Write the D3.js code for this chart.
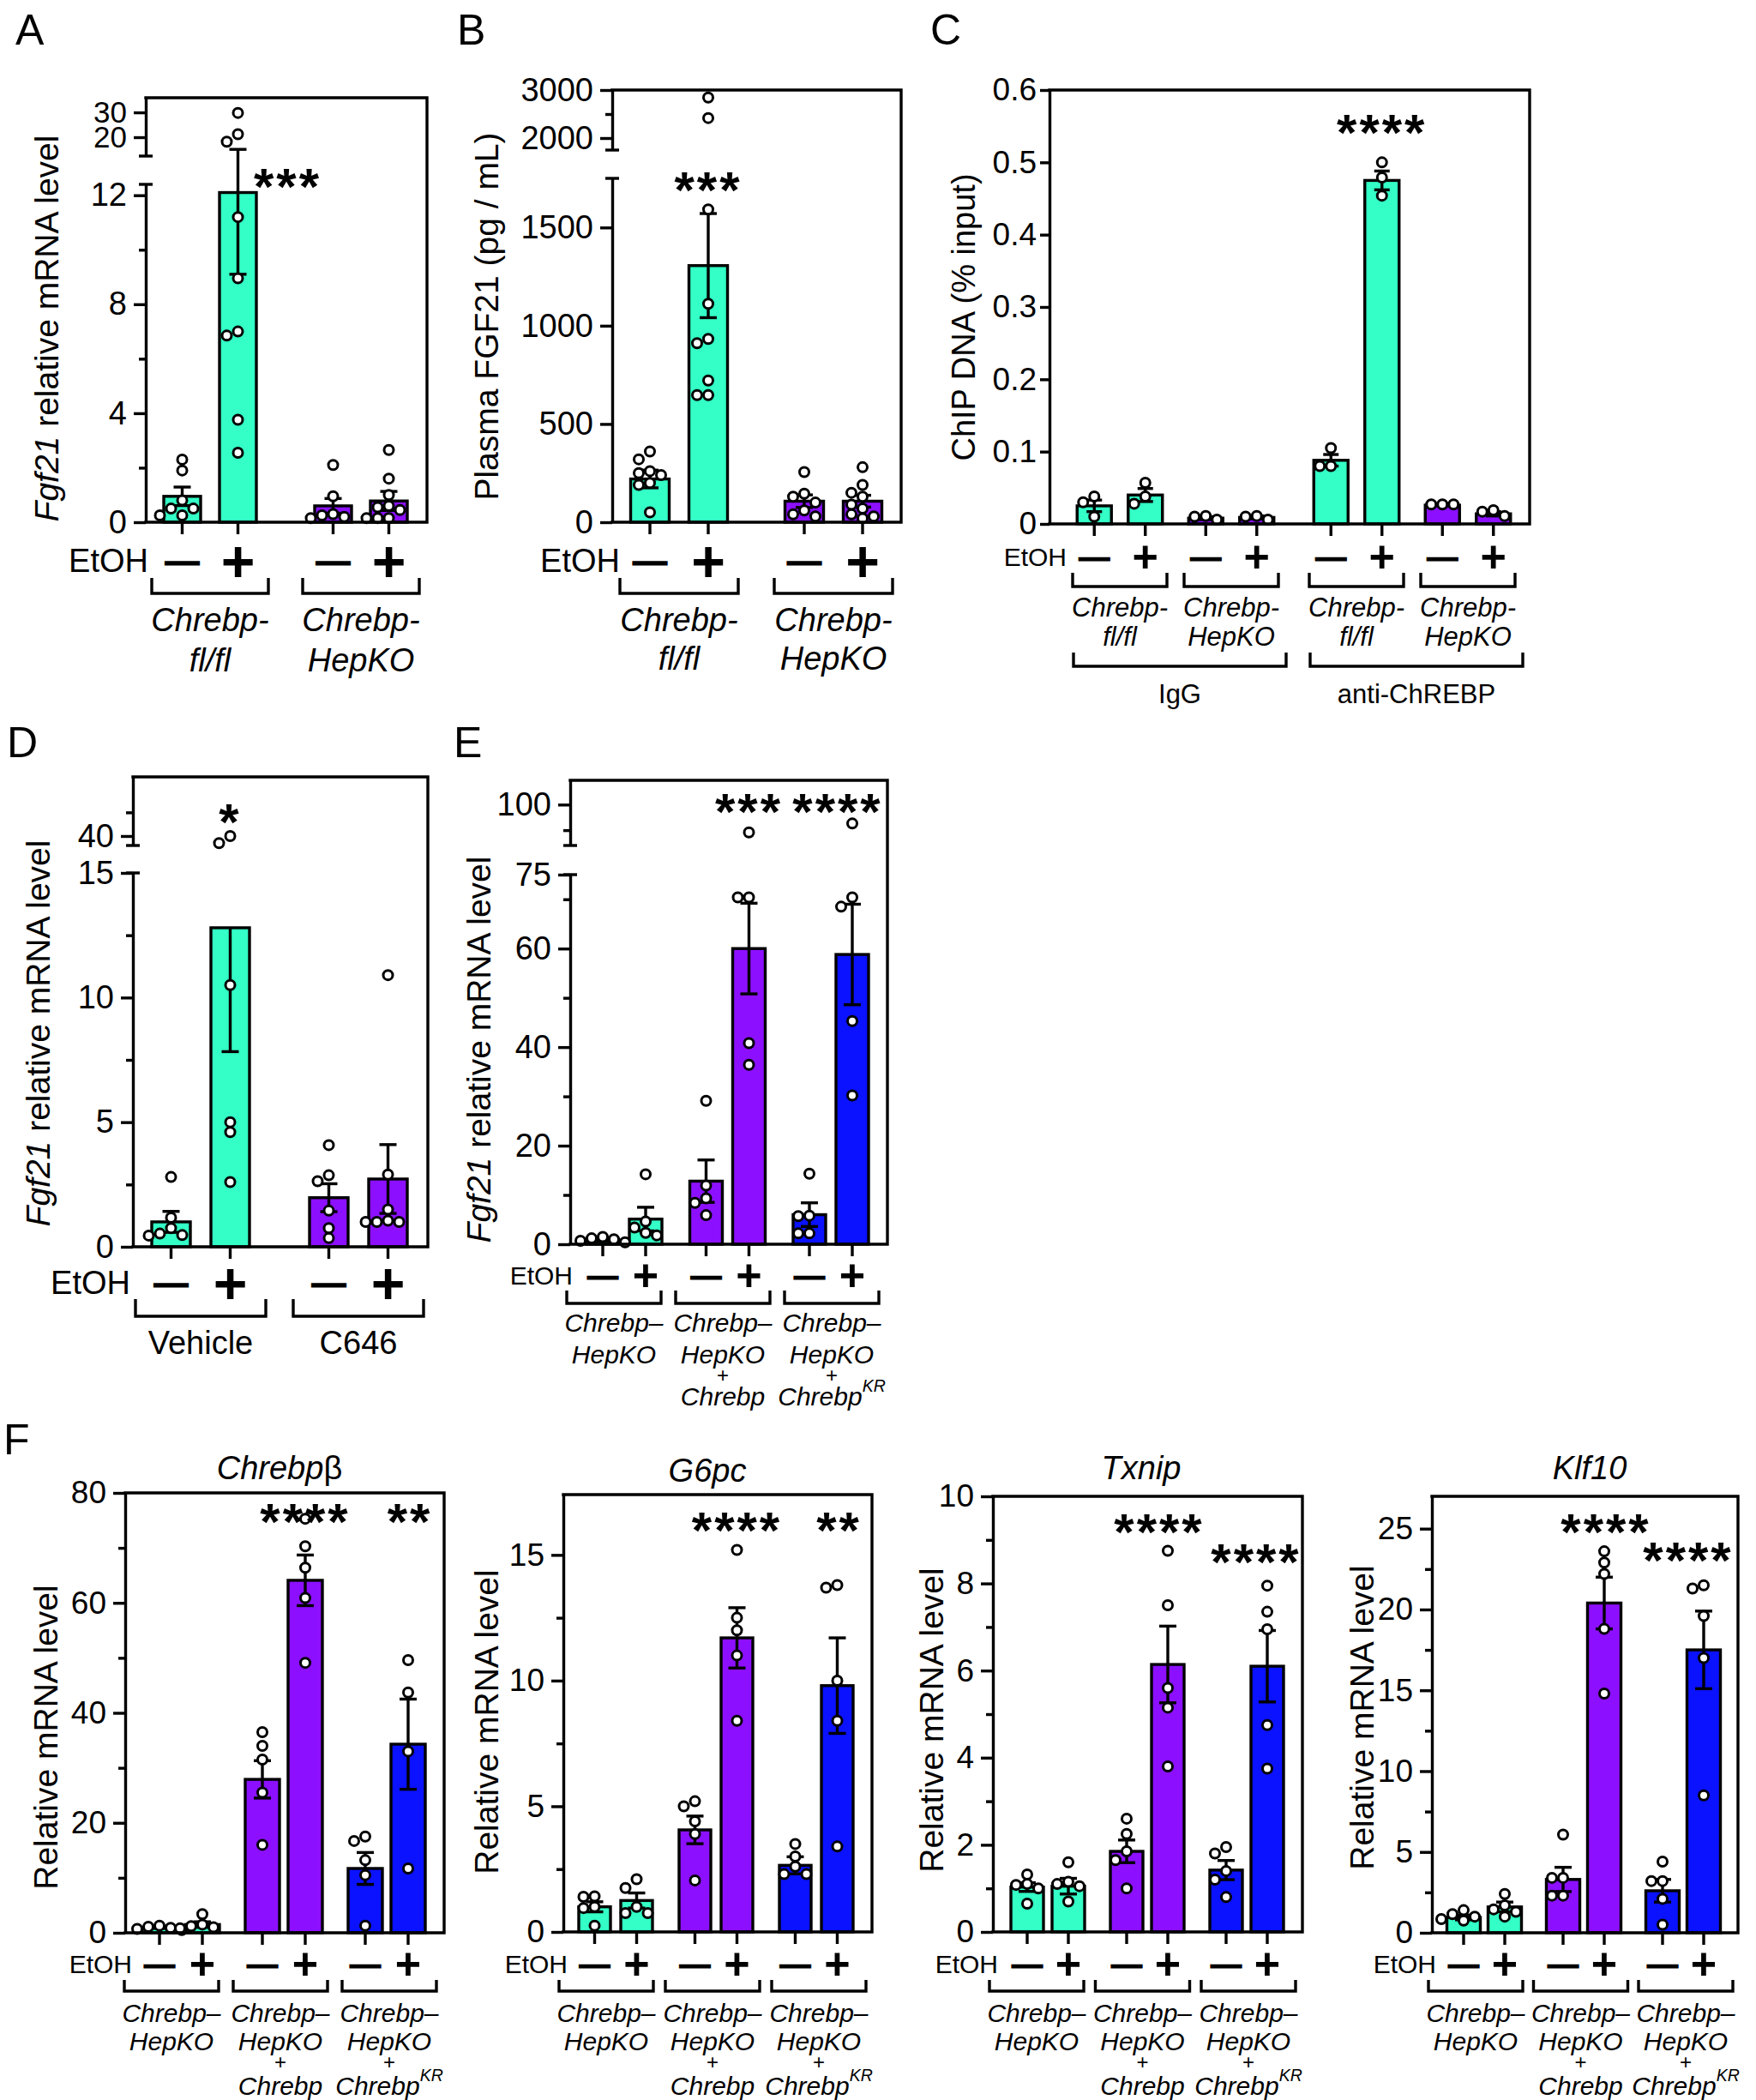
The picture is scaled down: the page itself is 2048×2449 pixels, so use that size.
<!DOCTYPE html>
<html>
<head>
<meta charset="utf-8">
<script src="https://cdn.jsdelivr.net/npm/d3@7/dist/d3.min.js"></script>
<style>
body { margin: 0; background: #fff; }
svg { display: block; }
</style>
</head>
<body>
<script>
///fonts and colours
const FONT = "'Liberation Sans', Arial, Helvetica, sans-serif";
const GREEN = "#33ffc6", PURPLE = "#8c10ff", BLUE = "#0a12ff";
const R = 5.5;
const LW = 3.4;

///shared x categories
const ethanol = ["\u2014", "+"];

///A: Fgf21 mRNA
const aGroups = [["Chrebp-", "fl/fl"], ["Chrebp-", "HepKO"]];
const aMean = [0.95, 12.1, 0.6, 0.78];
const aSem = [0.34, 3.0, 0.27, 0.35];
const aPoints = [
  [2.3, 1.9, 0.8, 0.5, 0.5, 0.25, 0.25],
  [29.8, 21.2, 18.2, 11.2, 8.95, 6.85, 7.0, 3.76, 2.55],
  [2.1, 0.95, 0.3, 0.25, 0.2, 0.15],
  [2.65, 1.6, 1.0, 0.6, 0.55, 0.45, 0.15, 0.15, 0.15]
];
const aTicks = [0, 4, 8, 12], aTicksTop = [20, 30], aMinor = [2, 6, 10];

///B: plasma FGF21
const bGroups = [["Chrebp-", "fl/fl"], ["Chrebp-", "HepKO"]];
const bMean = [220, 1306, 107, 107];
const bSem = [45, 265, 32, 30];
const bPoints = [
  [360, 320, 260, 250, 240, 200, 190, 50],
  [2843, 2417, 1592, 1112, 933, 911, 721, 647, 647],
  [255, 145, 130, 100, 60, 40, 30],
  [280, 190, 150, 130, 90, 70, 40, 30, 20]
];
const bTicks = [0, 500, 1000, 1500], bTicksTop = [2000, 3000], bMinorTop = [2500];

///C: ChIP
const cSuper = ["IgG", "anti-ChREBP"];
const cGroups = [["Chrebp-", "fl/fl"], ["Chrebp-", "HepKO"], ["Chrebp-", "fl/fl"], ["Chrebp-", "HepKO"]];
const cMean = [0.025, 0.040, 0.008, 0.009, 0.088, 0.475, 0.026, 0.014];
const cSem = [0.008, 0.009, 0.002, 0.002, 0.008, 0.013, 0.001, 0.003];
const cPoints = [
  [0.038, 0.03, 0.01], [0.057, 0.038, 0.028], [0.011, 0.01, 0.006], [0.006, 0.01, 0.011],
  [0.105, 0.08, 0.08], [0.5, 0.479, 0.454], [0.027, 0.027, 0.027], [0.011, 0.017, 0.019]
];
const cTicks = [0, 0.1, 0.2, 0.3, 0.4, 0.5, 0.6];

///D: C646
const dGroups = [["Vehicle"], ["C646"]];
const dMean = [1.0, 12.8, 1.97, 2.72];
const dSem = [0.42, 4.97, 0.56, 1.38];
const dPoints = [
  [2.8, 1.17, 0.75, 0.53, 0.47, 0.45],
  [40, 38.5, 10.5, 5.0, 4.6, 2.6],
  [4.08, 2.87, 2.63, 1.45, 0.75, 0.35],
  [10.9, 2.9, 1.5, 1.05, 1.0, 1.0, 1.0]
];
const dTicks = [0, 5, 10, 15], dMinor = [2.5, 7.5, 12.5], dTicksTop = [40], dMinorTop = [45];

///E: rescue Fgf21
const rescueGroups = [["Chrebp\u2013", "HepKO"], ["Chrebp\u2013", "HepKO", "+", "Chrebp"], ["Chrebp\u2013", "HepKO", "+", "Chrebp^KR"]];
const eMean = [0.9, 5.1, 12.8, 60.0, 6.0, 58.8];
const eSem = [0.3, 2.4, 4.3, 9.2, 2.4, 10.2];
const ePoints = [
  [1.5, 1.2, 1.0, 0.7, 0.4],
  [14.2, 4.6, 3.4, 2.3, 1.8],
  [29.1, 11.9, 9.3, 8.4, 5.9],
  [89.1, 70.4, 70.4, 40.8, 36.4],
  [14.3, 5.8, 5.7, 2.2, 2.2],
  [92.6, 70.4, 68.5, 45.3, 30.2]
];
const eTicks = [0, 20, 40, 60, 75], eMinor = [10, 30, 50, 70], eTicksTop = [100], eMinorTop = [90];

///F: target genes
const f1Mean = [1.0, 1.5, 27.9, 64.1, 11.7, 34.3];
const f1Sem = [0.2, 0.5, 3.4, 4.6, 2.9, 8.2];
const f1Points = [
  [1.3, 1.1, 0.9, 0.7, 0.5], [3.4, 1.5, 1.2, 1.0, 0.8], [36.5, 34.0, 31.5, 25.5, 16.0],
  [75.3, 70.3, 66.4, 60.9, 49.1], [17.5, 16.7, 13.2, 10.5, 1.3], [49.6, 43.7, 33.0, 11.7]
];
const f2Mean = [1.0, 1.25, 4.06, 11.7, 2.65, 9.8];
const f2Sem = [0.2, 0.3, 0.55, 1.2, 0.34, 1.9];
const f2Points = [
  [1.42, 1.4, 1.0, 0.95, 0.25], [2.1, 1.75, 1.0, 0.75, 0.75], [5.2, 5.0, 4.4, 3.9, 2.05],
  [15.2, 12.5, 12.0, 11.0, 8.4], [3.5, 3.0, 2.6, 2.3, 2.3], [13.8, 13.7, 10.0, 8.4, 3.4]
];
const f3Mean = [1.03, 1.05, 1.85, 6.14, 1.42, 6.1];
const f3Sem = [0.1, 0.18, 0.26, 0.88, 0.22, 0.82];
const f3Points = [
  [1.32, 1.1, 1.08, 1.0, 0.65], [1.6, 1.15, 1.1, 1.05, 0.7], [2.6, 2.25, 1.85, 1.65, 1.0],
  [8.75, 7.5, 5.6, 5.15, 3.8], [1.95, 1.8, 1.4, 1.2, 0.8], [7.95, 7.35, 6.95, 4.75, 3.75]
];
const f4Mean = [0.95, 1.6, 3.3, 20.4, 2.6, 17.5];
const f4Sem = [0.15, 0.3, 0.75, 1.6, 0.7, 2.4];
const f4Points = [
  [1.4, 1.15, 1.0, 0.85, 0.75], [2.4, 1.7, 1.45, 1.3, 1.0], [6.07, 3.4, 3.4, 2.3, 2.3],
  [23.6, 22.9, 22.2, 18.8, 14.8], [4.4, 3.2, 3.2, 2.1, 0.5], [21.5, 21.3, 19.6, 17.0, 8.5]
];
const f1Ticks = [0, 20, 40, 60, 80], f1Minor = [10, 30, 50, 70];
const f2Ticks = [0, 5, 10, 15], f2Minor = [2.5, 7.5, 12.5];
const f3Ticks = [0, 2, 4, 6, 8, 10], f3Minor = [1, 3, 5, 7, 9];
const f4Ticks = [0, 5, 10, 15, 20, 25], f4Minor = [2.5, 7.5, 12.5, 17.5, 22.5];

///svg
const svg = d3.select("body").append("svg")
  .attr("width", 2048).attr("height", 2449)
  .attr("font-family", FONT);

///spread overlapping dots sideways
function swarm(ys) {
  const placed = [];
  const order = d3.range(ys.length).filter(i => ys[i] != null).sort((a, b) => ys[a] - ys[b]);
  order.forEach(i => {
    for (let k = 0; k < 30; k++) {
      const off = k === 0 ? 0 : (k % 2 ? -1 : 1) * Math.ceil(k / 2) * (2 * R + 2);
      if (placed.every(q => Math.hypot(q.x - off, q.y - ys[i]) >= 2 * R)) {
        placed.push({x: off, y: ys[i]});
        break;
      }
    }
  });
  return placed;
}

function drawPanel(p) {
  const g = svg.append("g");
  const f = p.frame;
  const segs = p.segs.map(s => Object.assign({sc: d3.scaleLinear().domain(s.dom).range(s.rng)}, s));
  const yOf = v => {
    const s = segs.find(s => v >= s.dom[0] && v <= s.dom[1]);
    return s ? s.sc(v) : null;
  };
  const innerX = d3.scalePoint().domain(ethanol).range([-p.inner / 2, p.inner / 2]);
  const xs = p.mean.map((m, i) => p.groupX(Math.floor(i / 2)) + innerX(ethanol[i % 2]));
  const labelX = p.labelX || p.groupX;
  const tickLen = p.tickLen || 14;

  ///bars
  g.selectAll("rect.bar").data(p.mean).join("rect")
    .attr("class", "bar")
    .attr("x", (d, i) => xs[i] - p.barW / 2)
    .attr("y", d => yOf(d))
    .attr("width", p.barW)
    .attr("height", d => f.b - yOf(d))
    .attr("fill", (d, i) => p.colors[i])
    .attr("stroke", "#000").attr("stroke-width", LW);

  ///error bars
  p.mean.forEach((m, i) => {
    const lo = yOf(m - p.sem[i]), hi = yOf(m + p.sem[i]);
    const top = hi == null ? yOf(m) : hi;
    const ln = (x1, y1, x2, y2) => g.append("line")
      .attr("x1", x1).attr("y1", y1).attr("x2", x2).attr("y2", y2)
      .attr("stroke", "#000").attr("stroke-width", LW);
    ln(xs[i], lo, xs[i], top);
    ln(xs[i] - p.capW / 2, lo, xs[i] + p.capW / 2, lo);
    if (hi != null) ln(xs[i] - p.capW / 2, hi, xs[i] + p.capW / 2, hi);
  });

  ///dots
  p.pts.forEach((vals, i) => {
    g.append("g").selectAll("circle").data(swarm(vals.map(yOf))).join("circle")
      .attr("cx", d => xs[i] + d.x).attr("cy", d => d.y).attr("r", R)
      .attr("fill", "#fff").attr("stroke", "#000").attr("stroke-width", 3);
  });

  ///frame (top, right, bottom)
  g.append("path")
    .attr("d", `M${f.l},${f.t}H${f.r}V${f.b}H${f.l}`)
    .attr("fill", "none").attr("stroke", "#000").attr("stroke-width", LW)
    .attr("stroke-linecap", "square");

  ///y axis segments
  segs.forEach(s => {
    g.append("g").attr("transform", `translate(${f.l},0)`)
      .call(d3.axisLeft(s.sc).tickValues(s.major).tickSize(tickLen).tickSizeOuter(0).tickPadding(p.tickPad || 8)
        .tickFormat(p.fmt || (d => d)))
      .call(a => {
        a.select(".domain").attr("stroke-width", LW);
        a.selectAll(".tick line").attr("stroke-width", LW);
        a.selectAll(".tick text").attr("font-size", s.fs || p.tickFs).attr("font-family", FONT).attr("fill", "#000");
      });
    if (s.minor && s.minor.length) {
      g.append("g").attr("transform", `translate(${f.l},0)`)
        .call(d3.axisLeft(s.sc).tickValues(s.minor).tickSize(8).tickSizeOuter(0).tickFormat(""))
        .call(a => {
          a.select(".domain").remove();
          a.selectAll(".tick line").attr("stroke-width", LW);
        });
    }
  });
  ///break caps
  for (let k = 0; k < segs.length - 1; k++) {
    [segs[k].rng[1], segs[k + 1].rng[0]].forEach(y => {
      g.append("line").attr("x1", f.l - 8).attr("x2", f.l + 8).attr("y1", y).attr("y2", y)
        .attr("stroke", "#000").attr("stroke-width", LW);
    });
  }

  ///x ticks
  g.selectAll("line.xt").data(xs).join("line")
    .attr("class", "xt")
    .attr("x1", d => d).attr("x2", d => d).attr("y1", f.b).attr("y2", f.b + 14)
    .attr("stroke", "#000").attr("stroke-width", LW);

  ///EtOH row
  g.append("text").attr("x", p.etoh.x).attr("y", p.etoh.y)
    .attr("text-anchor", "end").attr("dominant-baseline", "central")
    .attr("font-size", p.etoh.fs).text("EtOH");
  g.selectAll("text.sym").data(xs).join("text")
    .attr("class", "sym")
    .attr("x", d => d).attr("y", p.etoh.y)
    .attr("text-anchor", "middle").attr("dominant-baseline", "central")
    .attr("font-weight", "bold")
    .attr("font-size", (d, i) => i % 2 ? p.etoh.plusFs : p.etoh.dashFs)
    .attr("stroke", "#000").attr("stroke-width", (d, i) => i % 2 ? 0 : 1.2)
    .text((d, i) => ethanol[i % 2]);

  ///brackets and group labels
  p.labels.groups.forEach((lines, gi) => {
    const cx = labelX(gi), hw = p.bracket.half;
    g.append("path")
      .attr("d", `M${cx - hw},${p.bracket.top}V${p.bracket.bot}H${cx + hw}V${p.bracket.top}`)
      .attr("fill", "none").attr("stroke", "#000").attr("stroke-width", LW);
    lines.forEach((ln, li) => {
      const [main, sup] = ln.split("^");
      const t = g.append("text").attr("x", cx).attr("y", p.labels.ys[li])
        .attr("text-anchor", "middle").attr("dominant-baseline", "central")
        .attr("font-size", ln === "+" ? p.labels.fs * 0.8 : p.labels.fs)
        .attr("font-style", ln === "+" || p.labels.upright ? "normal" : "italic");
      t.append("tspan").text(main);
      if (sup) t.append("tspan").attr("font-size", p.labels.fs * 0.65).attr("dy", -p.labels.fs * 0.4).text(sup);
    });
  });

  ///y label
  const yl = g.append("text")
    .attr("transform", `translate(${p.ylab.x},${p.ylab.y}) rotate(-90)`)
    .attr("text-anchor", "middle").attr("dominant-baseline", "central")
    .attr("font-size", p.ylab.fs || 39);
  p.ylab.parts.forEach(([txt, it]) => yl.append("tspan").attr("font-style", it ? "italic" : "normal").text(txt));

  ///stars
  (p.stars || []).forEach(s => {
    g.append("text").attr("x", xs[s.i] + (s.dx || 0)).attr("y", s.y + 0.575 * 60)
      .attr("text-anchor", "middle").attr("font-size", 60).attr("font-weight", "bold")
      .attr("letter-spacing", 3).text(s.t);
  });

  ///title
  if (p.title) {
    const t = g.append("text").attr("x", p.title.x).attr("y", p.title.y)
      .attr("text-anchor", "middle").attr("dominant-baseline", "central").attr("font-size", 38);
    p.title.parts.forEach(([txt, it]) => t.append("tspan").attr("font-style", it ? "italic" : "normal").text(txt));
  }

  ///panel letter
  if (p.letter) {
    svg.append("text").attr("x", p.letter.x).attr("y", p.letter.y)
      .attr("font-size", 50).text(p.letter.t);
  }
  return {g, xs};
}

const fgf21Label = [["Fgf21", true], [" relative mRNA level", false]];
const relLabel = [["Relative mRNA level", false]];
const twoColors = [GREEN, GREEN, PURPLE, PURPLE];
const threeColors = [GREEN, GREEN, PURPLE, PURPLE, BLUE, BLUE];

///A
drawPanel({
  letter: {t: "A", x: 18, y: 52},
  mean: aMean, sem: aSem, pts: aPoints, colors: twoColors,
  frame: {l: 170, r: 498, t: 114, b: 609},
  segs: [
    {dom: [0, 12.4], rng: [609, 215], major: aTicks, minor: aMinor},
    {dom: [12.4, 35.9], rng: [182, 114], major: aTicksTop, minor: [], fs: 35}
  ],
  tickFs: 38,
  groupX: d3.scalePoint().domain([0, 1]).range([245, 421]),
  inner: 65, barW: 43, capW: 20,
  ylab: {x: 54, y: 383, parts: fgf21Label},
  etoh: {x: 173, y: 654, fs: 38, dashFs: 40, plusFs: 68},
  bracket: {half: 68, top: 674, bot: 692},
  labels: {groups: aGroups, ys: [723, 770], fs: 38},
  stars: [{i: 1, t: "***", dx: 58, y: 203}]
});

///B
drawPanel({
  letter: {t: "B", x: 533, y: 52},
  mean: bMean, sem: bSem, pts: bPoints, colors: twoColors,
  frame: {l: 714, r: 1051, t: 105, b: 609},
  segs: [
    {dom: [0, 1750], rng: [609, 208], major: bTicks, minor: []},
    {dom: [1750, 3000], rng: [175, 105], major: bTicksTop, minor: bMinorTop}
  ],
  tickFs: 38,
  groupX: d3.scalePoint().domain([0, 1]).range([792, 972]),
  inner: 68, barW: 45, capW: 20,
  ylab: {x: 567, y: 369, parts: [["Plasma FGF21 (pg / mL)", false]]},
  etoh: {x: 723, y: 654, fs: 38, dashFs: 40, plusFs: 68},
  bracket: {half: 69, top: 674, bot: 692},
  labels: {groups: bGroups, ys: [723, 768], fs: 38},
  stars: [{i: 1, t: "***", dx: 0, y: 207}]
});

///C
const cSuperX = d3.scalePoint().domain(cSuper).range([1371, 1647]);
const cSubX = d3.scalePoint().domain([0, 1]).range([-65, 65]);
const panelC = drawPanel({
  letter: {t: "C", x: 1085, y: 52},
  mean: cMean, sem: cSem, pts: cPoints, colors: [GREEN, GREEN, PURPLE, PURPLE, GREEN, GREEN, PURPLE, PURPLE],
  frame: {l: 1224, r: 1784, t: 105, b: 611},
  segs: [{dom: [0, 0.6], rng: [611, 105], major: cTicks, minor: []}],
  tickFs: 37, tickLen: 11, tickPad: 4,
  fmt: d => d === 0 ? "0" : d3.format(".1f")(d),
  groupX: gi => cSuperX(cSuper[Math.floor(gi / 2)]) + cSubX(gi % 2),
  inner: 59.5, barW: 40, capW: 18,
  ylab: {x: 1124, y: 370, fs: 38, parts: [["ChIP DNA (% input)", false]]},
  etoh: {x: 1244, y: 649, fs: 30, dashFs: 36, plusFs: 52},
  bracket: {half: 55, top: 668, bot: 684},
  labels: {groups: cGroups, ys: [708, 742], fs: 31},
  stars: [{i: 5, t: "****", dx: 0, y: 140}]
});
///C second level brackets
cSuper.forEach(s => {
  const cx = cSuperX(s) + 5;
  panelC.g.append("path")
    .attr("d", `M${cx - 124},761V777H${cx + 124}V761`)
    .attr("fill", "none").attr("stroke", "#000").attr("stroke-width", LW);
  panelC.g.append("text").attr("x", cx).attr("y", 809)
    .attr("text-anchor", "middle").attr("dominant-baseline", "central")
    .attr("font-size", 31).text(s);
});

///D
drawPanel({
  letter: {t: "D", x: 8, y: 883},
  mean: dMean, sem: dSem, pts: dPoints, colors: twoColors,
  frame: {l: 155, r: 499, t: 906, b: 1454},
  segs: [
    {dom: [0, 15], rng: [1454, 1018], major: dTicks, minor: dMinor},
    {dom: [38, 52.5], rng: [986, 906], major: dTicksTop, minor: dMinorTop}
  ],
  tickFs: 38,
  groupX: d3.scalePoint().domain([0, 1]).range([234, 418]),
  inner: 69, barW: 45, capW: 20,
  ylab: {x: 44, y: 1205, parts: fgf21Label},
  etoh: {x: 152, y: 1496, fs: 38, dashFs: 40, plusFs: 68},
  bracket: {half: 76, top: 1515, bot: 1535},
  labels: {groups: dGroups, ys: [1566], fs: 38, upright: true},
  stars: [{i: 1, t: "*", dx: 0, y: 944}]
});

///E
drawPanel({
  letter: {t: "E", x: 529, y: 883},
  mean: eMean, sem: eSem, pts: ePoints, colors: threeColors,
  frame: {l: 665, r: 1035, t: 910, b: 1451},
  segs: [
    {dom: [0, 75], rng: [1451, 1020], major: eTicks, minor: eMinor},
    {dom: [84, 109.5], rng: [986, 910], major: eTicksTop, minor: eMinorTop}
  ],
  tickFs: 38,
  groupX: d3.scalePoint().domain([0, 1, 2]).range([728, 969]),
  labelX: d3.scalePoint().domain([0, 1, 2]).range([716, 970]),
  inner: 50, barW: 38, capW: 20,
  ylab: {x: 558, y: 1224, parts: fgf21Label},
  etoh: {x: 668, y: 1487, fs: 30, dashFs: 36, plusFs: 52},
  bracket: {half: 55, top: 1505, bot: 1520},
  labels: {groups: rescueGroups, ys: [1542, 1579, 1603, 1628], fs: 30},
  stars: [{i: 3, t: "***", dx: 0, y: 932}, {i: 5, t: "****", dx: -17, y: 932}]
});

///F
const fPanels = [
  {mean: f1Mean, sem: f1Sem, pts: f1Points, frame: {l: 146, r: 518, t: 1741, b: 2254}, dom: [0, 80],
   major: f1Ticks, minor: f1Minor, gx: [211, 451], lx: [200, 454], inner: 50, barW: 40, etohX: 154, ylab: [53, 2026],
   title: {x: 326, y: 1712, parts: [["Chrebp", true], ["\u03b2", false]]},
   stars: [{i: 3, t: "****", dx: 0, y: 1760}, {i: 5, t: "**", dx: 2, y: 1760}]},
  {mean: f2Mean, sem: f2Sem, pts: f2Points, frame: {l: 657, r: 1017, t: 1743, b: 2253}, dom: [0, 17.4],
   major: f2Ticks, minor: f2Minor, gx: [718, 952], lx: [707, 955], inner: 49, barW: 37, etohX: 662, ylab: [567, 2008],
   title: {x: 825, y: 1715, parts: [["G6pc", true]]},
   stars: [{i: 3, t: "****", dx: 0, y: 1770}, {i: 5, t: "**", dx: 2, y: 1770}]},
  {mean: f3Mean, sem: f3Sem, pts: f3Points, frame: {l: 1158, r: 1519, t: 1745, b: 2253}, dom: [0, 10],
   major: f3Ticks, minor: f3Minor, gx: [1222, 1454], lx: [1209, 1456], inner: 48, barW: 38, etohX: 1164, ylab: [1086, 2006],
   title: {x: 1331, y: 1712, parts: [["Txnip", true]]},
   stars: [{i: 3, t: "****", dx: -10, y: 1772}, {i: 5, t: "****", dx: -13, y: 1807}]},
  {mean: f4Mean, sem: f4Sem, pts: f4Points, frame: {l: 1670, r: 2027, t: 1745, b: 2254}, dom: [0, 27],
   major: f4Ticks, minor: f4Minor, gx: [1731, 1963], lx: [1721, 1966], inner: 48, barW: 39, etohX: 1675, ylab: [1588, 2003],
   title: {x: 1854, y: 1712, parts: [["Klf10", true]]},
   stars: [{i: 3, t: "****", dx: 2, y: 1772}, {i: 5, t: "****", dx: -18, y: 1805}]}
];
fPanels.forEach((q, k) => {
  drawPanel({
    letter: k === 0 ? {t: "F", x: 4, y: 1696} : null,
    mean: q.mean, sem: q.sem, pts: q.pts, colors: threeColors,
    frame: q.frame,
    segs: [{dom: q.dom, rng: [q.frame.b, q.frame.t], major: q.major, minor: q.minor}],
    tickFs: 37,
    groupX: d3.scalePoint().domain([0, 1, 2]).range(q.gx),
    labelX: d3.scalePoint().domain([0, 1, 2]).range(q.lx),
    inner: q.inner, barW: q.barW, capW: 20,
    ylab: {x: q.ylab[0], y: q.ylab[1], parts: relLabel},
    etoh: {x: q.etohX, y: 2290, fs: 30, dashFs: 36, plusFs: 52},
    bracket: {half: 55, top: 2309, bot: 2322},
    labels: {groups: rescueGroups, ys: [2347, 2380, 2404, 2432], fs: 30},
    stars: q.stars,
    title: q.title
  });
});
</script>
</body>
</html>
